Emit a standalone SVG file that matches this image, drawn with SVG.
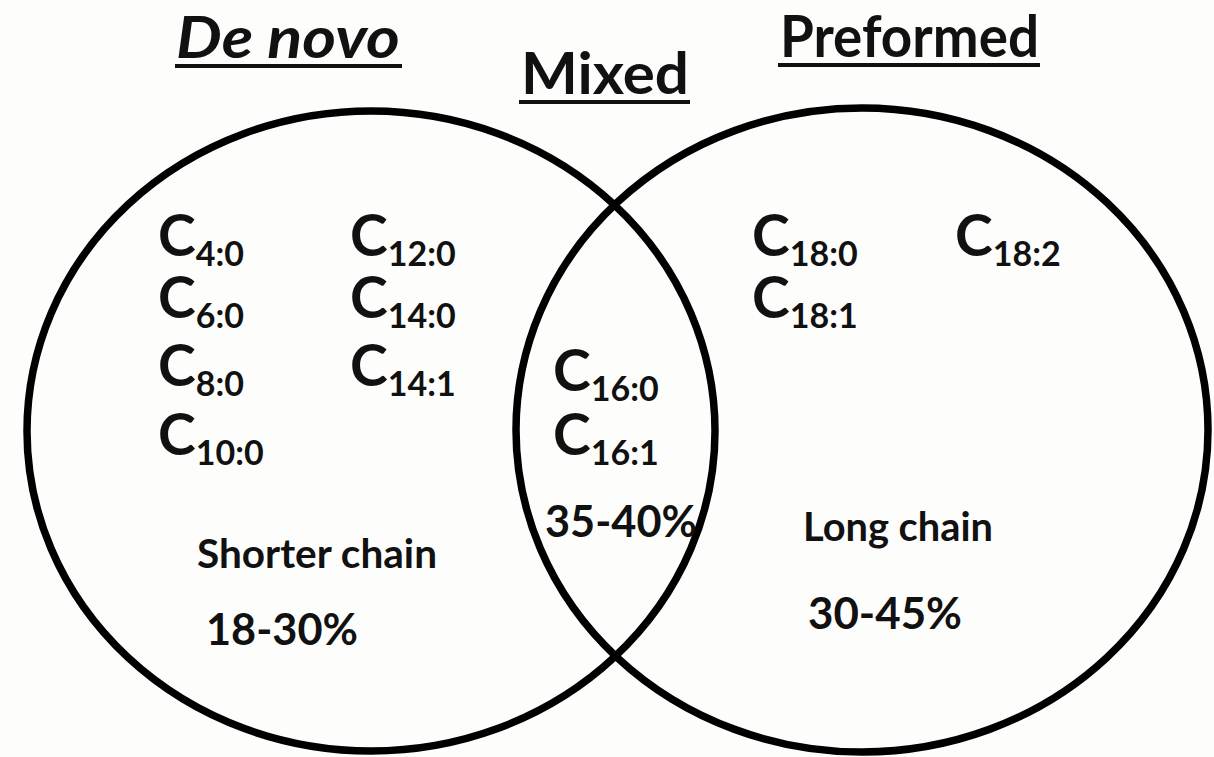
<svg xmlns="http://www.w3.org/2000/svg" width="1214" height="757" viewBox="0 0 1214 757">
  <style>
    text { font-family: Lato, "Open Sans", "Liberation Sans", sans-serif; font-weight: bold; fill: #111; }
    .title { font-size: 57px; }
    .c { font-size: 57px; }
    .sub { font-size: 34px; }
    .note { font-size: 40px; }
    .pct { font-size: 44px; }
    .ring { fill: none; stroke: #000; stroke-width: 7.5; }
    .rule { stroke: #111; stroke-width: 4; }
  </style>
  <rect width="1214" height="757" fill="#fdfefc"/>

  <!-- circles of the Venn diagram -->
  <g id="connectors">
    <ellipse id="ring-denovo" class="ring" cx="371" cy="431" rx="344" ry="320"/>
    <ellipse id="ring-preformed" class="ring" cx="862" cy="430" rx="346" ry="322"/>
  </g>

  <!-- headings -->
  <g id="head-denovo">
    <text class="title" x="176" y="58" font-style="italic" textLength="224" lengthAdjust="spacingAndGlyphs">De novo</text>
    <line class="rule" x1="175" y1="66" x2="402" y2="66"/>
  </g>
  <g id="head-mixed">
    <text class="title" x="521" y="94" textLength="168" lengthAdjust="spacingAndGlyphs">Mixed</text>
    <line class="rule" x1="519" y1="102" x2="690" y2="102"/>
  </g>
  <g id="head-preformed">
    <text class="title" x="780" y="57" textLength="259" lengthAdjust="spacingAndGlyphs">Preformed</text>
    <line class="rule" x1="778" y1="65" x2="1040" y2="65"/>
  </g>

  <!-- de novo fatty acids -->
  <g id="node-denovo">
    <text x="158" y="256"><tspan class="c">C</tspan><tspan class="sub" dy="10">4:0</tspan></text>
    <text x="158" y="318"><tspan class="c">C</tspan><tspan class="sub" dy="10">6:0</tspan></text>
    <text x="158" y="386"><tspan class="c">C</tspan><tspan class="sub" dy="10">8:0</tspan></text>
    <text x="158" y="455"><tspan class="c">C</tspan><tspan class="sub" dy="10">10:0</tspan></text>
    <text x="350" y="256"><tspan class="c">C</tspan><tspan class="sub" dy="10">12:0</tspan></text>
    <text x="350" y="318"><tspan class="c">C</tspan><tspan class="sub" dy="10">14:0</tspan></text>
    <text x="350" y="386"><tspan class="c">C</tspan><tspan class="sub" dy="10">14:1</tspan></text>
    <text class="note" x="197" y="568" textLength="240" lengthAdjust="spacingAndGlyphs">Shorter chain</text>
    <text class="pct" x="206" y="645" textLength="152" lengthAdjust="spacingAndGlyphs">18-30%</text>
  </g>

  <!-- mixed origin -->
  <g id="node-mixed">
    <text x="553" y="391"><tspan class="c">C</tspan><tspan class="sub" dy="10">16:0</tspan></text>
    <text x="553" y="455"><tspan class="c">C</tspan><tspan class="sub" dy="10">16:1</tspan></text>
    <text class="pct" x="545" y="537" textLength="152" lengthAdjust="spacingAndGlyphs">35-40%</text>
  </g>

  <!-- preformed fatty acids -->
  <g id="node-preformed">
    <text x="752" y="256"><tspan class="c">C</tspan><tspan class="sub" dy="10">18:0</tspan></text>
    <text x="955" y="256"><tspan class="c">C</tspan><tspan class="sub" dy="10">18:2</tspan></text>
    <text x="752" y="318"><tspan class="c">C</tspan><tspan class="sub" dy="10">18:1</tspan></text>
    <text class="note" x="803" y="541" textLength="190" lengthAdjust="spacingAndGlyphs">Long chain</text>
    <text class="pct" x="808" y="629" textLength="154" lengthAdjust="spacingAndGlyphs">30-45%</text>
  </g>
</svg>
